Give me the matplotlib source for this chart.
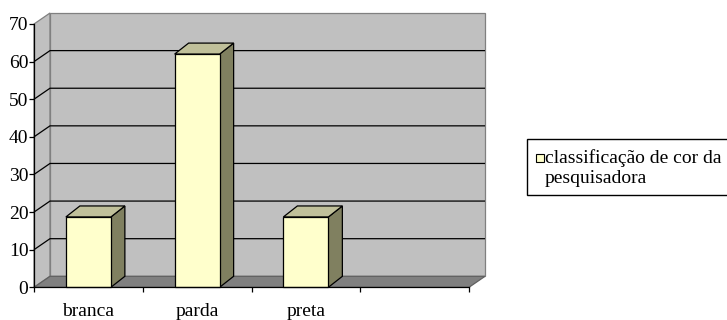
import matplotlib
matplotlib.use('Agg')
import matplotlib.pyplot as plt
from matplotlib.patches import Polygon, Rectangle

# ---- data ----
categories = ['branca', 'parda', 'preta', '']
values = [18.7, 62.0, 18.7]
series_name = 'classificação de cor da\npesquisadora'
y_ticks = [0, 10, 20, 30, 40, 50, 60, 70]

plt.rcParams['font.family'] = ['Liberation Serif', 'DejaVu Serif']

W, H = 727, 320
fig = plt.figure(figsize=(W / 100, H / 100), dpi=100)
fig.patch.set_facecolor('white')
ax = fig.add_axes([34 / W, (H - 287.3) / H, 435 / W, 263.3 / H])
ax.set_xlim(0, len(categories))
ax.set_ylim(y_ticks[0], y_ticks[-1])
ax.patch.set_visible(False)
for s in ['top', 'right']:
    ax.spines[s].set_visible(False)
for s in ['left', 'bottom']:
    ax.spines[s].set_linewidth(0.9)
    ax.spines[s].set_color('black')
    ax.spines[s].set_zorder(5)

# pixel -> data conversion through the axes transform
o = ax.transData.transform((0, 0))
px_x = ax.transData.transform((1, 0))[0] - o[0]
px_y = ax.transData.transform((0, 1))[1] - o[1]


def shift(x, y, dxp, dyp):
    return (x + dxp / px_x, y + dyp / px_y)


WDX, WDY = 16, 11   # wall depth in pixels
BDX, BDY = 14, 11   # bar depth in pixels
xmax = len(categories)
ymax = y_ticks[-1]

wall_kw = dict(clip_on=False, linewidth=0.9)
# left wall
ax.add_patch(Polygon([(0, 0), (0, ymax), shift(0, ymax, WDX, WDY), shift(0, 0, WDX, WDY)],
                     closed=True, facecolor='#C0C0C0', edgecolor='#808080', zorder=1, **wall_kw))
# back wall
ax.add_patch(Polygon([shift(0, 0, WDX, WDY), shift(0, ymax, WDX, WDY),
                      shift(xmax, ymax, WDX, WDY), shift(xmax, 0, WDX, WDY)],
                     closed=True, facecolor='#C0C0C0', edgecolor='#808080', zorder=1, **wall_kw))
# floor
ax.add_patch(Polygon([(0, 0), (xmax, 0), shift(xmax, 0, WDX, WDY), shift(0, 0, WDX, WDY)],
                     closed=True, facecolor='#808080', edgecolor='#606060', zorder=1.5, **wall_kw))

# gridlines on left wall and back wall
for v in y_ticks[1:-1]:
    p1 = shift(0, v, WDX, WDY)
    p2 = shift(xmax, v, WDX, WDY)
    ax.plot([0, p1[0], p2[0]], [v, p1[1], p2[1]], color='black', lw=0.9,
            clip_on=False, zorder=2, solid_capstyle='butt')

# 3D bars
bw = 45 / px_x
for i, v in enumerate(values):
    c = i + 0.5
    x0, x1 = c - bw / 2, c + bw / 2
    ax.add_patch(Polygon([(x1, 0), (x1, v), shift(x1, v, BDX, BDY), shift(x1, 0, BDX, BDY)],
                         closed=True, facecolor='#808060', edgecolor='black', lw=0.9,
                         zorder=3, clip_on=False))
    ax.add_patch(Polygon([(x0, v), (x1, v), shift(x1, v, BDX, BDY), shift(x0, v, BDX, BDY)],
                         closed=True, facecolor='#C0C09A', edgecolor='black', lw=0.9,
                         zorder=3, clip_on=False))
    ax.add_patch(Rectangle((x0, 0), bw, v, facecolor='#FFFFCC', edgecolor='black',
                           lw=0.9, zorder=3.5, clip_on=False))

# ticks
ax.set_yticks(y_ticks)
ax.set_yticklabels([str(t) for t in y_ticks])
ax.tick_params(axis='y', direction='out', length=3.5, width=0.9, pad=0.5,
               labelsize=14, color='black')
ax.set_xticks(range(xmax + 1))
ax.set_xticklabels([])
ax.tick_params(axis='x', which='major', direction='out', length=3.5, width=0.9, color='black')
ax.set_xticks([i + 0.5 for i in range(xmax)], minor=True)
ax.set_xticklabels(categories, minor=True)
ax.tick_params(axis='x', which='minor', length=0, pad=11, labelsize=14)

# legend (drawn in figure pixels)
def fx(p):
    return p / W


def fy(p):
    return (H - p) / H


fig.patches.append(Rectangle((fx(527), fy(195)), fx(745) - fx(527), (195 - 139) / H,
                             transform=fig.transFigure, facecolor='white',
                             edgecolor='black', lw=1.0, figure=fig))
fig.patches.append(Rectangle((fx(536), fy(162)), 8 / W, 8 / H,
                             transform=fig.transFigure, facecolor='#FFFFCC',
                             edgecolor='black', lw=0.8, figure=fig))
fig.text(fx(545), fy(168), series_name, fontsize=14, ha='left', va='center',
         linespacing=1.2)

fig.savefig('out.png', dpi=100, facecolor='white')
